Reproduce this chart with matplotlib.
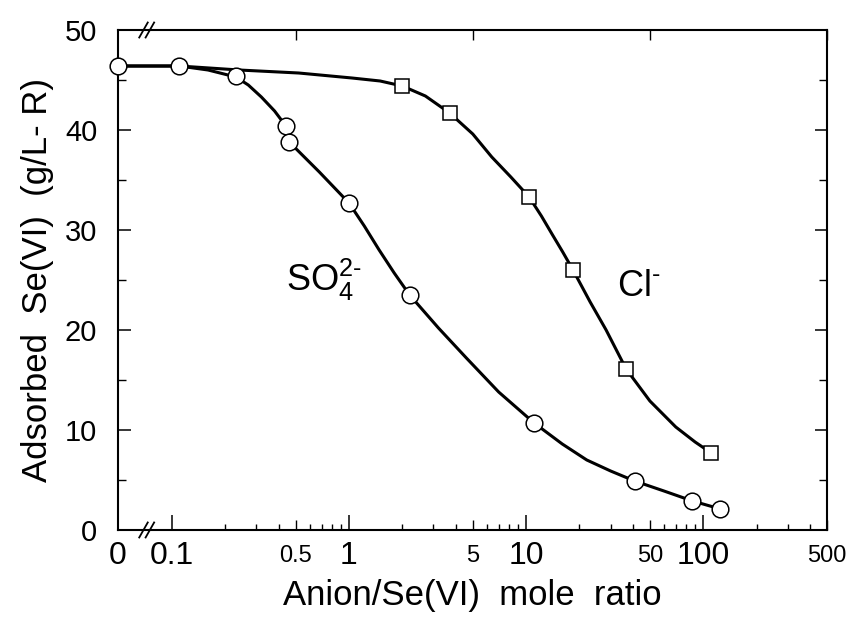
import numpy as np
import matplotlib.pyplot as plt

plt.rcParams['font.family'] = ['Liberation Sans', 'DejaVu Sans']
plt.rcParams['mathtext.fontset'] = 'custom'
plt.rcParams['mathtext.rm'] = 'Liberation Sans'
plt.rcParams['mathtext.it'] = 'Liberation Sans:italic'
plt.rcParams['mathtext.default'] = 'regular'

# measured points (x = anion/Se(VI) mole ratio, 0 drawn at the axis break)
so4_x = [0, 0.11, 0.23, 0.44, 0.46, 1.0, 2.2, 11.1, 41, 87, 125]
so4_y = [46.4, 46.4, 45.4, 40.4, 38.8, 32.7, 23.5, 10.7, 4.9, 2.9, 2.1]
cl_x = [2.0, 3.7, 10.4, 18.4, 36.7, 111]
cl_y = [44.4, 41.7, 33.3, 26.0, 16.1, 7.7]

# drawn fit curves
so4_fit_x = [0, 0.11, 0.16, 0.23, 0.27, 0.32, 0.38, 0.44, 0.46, 0.68, 1.0,
             1.22, 1.48, 1.8, 2.2, 3.2, 4.6, 7.0, 11.1, 16, 22, 30, 41, 60, 87, 125]
so4_fit_y = [46.4, 46.4, 46.0, 45.3, 44.5, 43.3, 41.9, 40.4, 38.8, 35.8, 32.7,
             30.4, 28.0, 25.7, 23.5, 20.2, 17.2, 13.8, 10.7, 8.6, 7.0, 5.9, 4.9, 3.9, 2.9, 2.1]
cl_fit_x = [0, 0.11, 0.24, 0.52, 1.04, 1.5, 2.0, 2.7, 3.7, 5.0, 6.4, 8.2, 10.4,
            12.2, 14, 16.1, 18.4, 23, 28.3, 36.7, 50, 70, 90, 111]
cl_fit_y = [46.4, 46.4, 46.0, 45.7, 45.2, 44.9, 44.4, 43.4, 41.7, 39.6, 37.3, 35.3, 33.3,
            31.4, 29.6, 27.8, 26.0, 22.8, 20.0, 16.1, 12.9, 10.3, 8.8, 7.7]

major_ticks = [0, 0.1, 1, 10, 100]
major_labels = ['0', '0.1', '1', '10', '100']
mid_ticks = [0.5, 5, 50, 500]
mid_labels = ['0.5', '5', '50', '500']

X_ZERO = 0.0496  # where "0" sits on the log axis
X_MAX = 500


def at_zero(xs):
    return [X_ZERO if v == 0 else v for v in xs]


fig = plt.figure(figsize=(8.53, 6.2), dpi=100)
ax = fig.add_axes([0.1383, 0.1452, 0.8312, 0.8064])
ax.set_xscale('log')

ax.plot(at_zero(so4_fit_x), so4_fit_y, color='black', lw=2.2, zorder=2)
ax.plot(at_zero(cl_fit_x), cl_fit_y, color='black', lw=2.2, zorder=2)
ax.plot(at_zero(so4_x), so4_y, 'o', ms=12, mfc='white', mec='black', mew=1.1,
        zorder=3, clip_on=False)
ax.plot(cl_x, cl_y, 's', ms=10.5, mfc='white', mec='black', mew=1.1, zorder=3)

ax.set_xlim(X_ZERO, X_MAX)
ax.set_ylim(0, 50)

# x ticks: decades big, 5s medium (twin axis), the rest small
ax.set_xticks(at_zero(major_ticks))
ax.set_xticklabels(major_labels, fontsize=23)
minor = [m * d for d in (0.1, 1, 10, 100) for m in range(2, 10)]
minor = [v for v in minor if v not in (0.5, 5, 50) and v < X_MAX]
ax.set_xticks(minor, minor=True)
ax.set_xticklabels([], minor=True)
ax.tick_params(axis='x', which='major', direction='in', length=11, width=1.1,
               top=True, bottom=True, pad=8)
ax.tick_params(axis='x', which='minor', direction='in', length=4.5, width=1.0,
               top=True, bottom=True)

tw = ax.twiny()
tw.set_xscale('log')
tw.set_xlim(X_ZERO, X_MAX)
tw.set_xticks(mid_ticks)
tw.set_xticklabels(mid_labels, fontsize=17)
tw.set_xticks([], minor=True)
tw.tick_params(axis='x', which='major', direction='in', length=7, width=1.0,
               top=True, bottom=True, labeltop=False, labelbottom=True, pad=10.5)
for s in tw.spines.values():
    s.set_visible(False)

ax.set_yticks(np.arange(0, 51, 10))
ax.set_yticks(np.arange(5, 50, 10), minor=True)
ax.tick_params(axis='y', which='major', direction='in', length=9, width=1.1,
               left=True, right=True, labelsize=21, pad=15)
ax.tick_params(axis='y', which='minor', direction='in', length=5.5, width=1.0,
               left=True, right=True)

for s in ax.spines.values():
    s.set_linewidth(1.5)

ax.set_xlabel('Anion/Se(VI)  mole  ratio', fontsize=25, labelpad=6)
ax.set_ylabel('Adsorbed  Se(VI)  (g/L- R)', fontsize=25, labelpad=8)

ax.text(0.44, 25.0, r'SO$_4^{2\text{-}}$', fontsize=26, va='center', ha='left')
ax.text(32.5, 24.3, r'Cl$^{\text{-}}$', fontsize=26, va='center', ha='left')

# axis break marks on bottom and top spines
for yb in (0, 1):
    for xb in (0.036, 0.045):
        ax.plot([xb - 0.006, xb + 0.006], [yb - 0.015, yb + 0.015],
                transform=ax.transAxes, color='black', lw=1.3, clip_on=False)

fig.savefig('out.png', dpi=100)
